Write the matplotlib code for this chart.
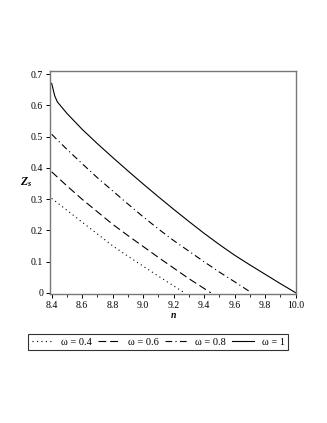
import matplotlib
matplotlib.use("Agg")
import matplotlib.pyplot as plt
from matplotlib.ticker import MultipleLocator

plt.rcParams['font.family'] = ['Liberation Serif', 'DejaVu Serif']
plt.rcParams['mathtext.fontset'] = 'custom'
plt.rcParams['mathtext.rm'] = 'Liberation Serif'
plt.rcParams['mathtext.it'] = 'Liberation Serif:italic'
plt.rcParams['mathtext.bf'] = 'Liberation Serif:italic:bold'

# omega = 1 (solid)
n_w10 = [8.4, 8.41, 8.42, 8.437, 8.5, 8.6, 8.7, 8.8, 8.9, 9.0, 9.1, 9.2, 9.3, 9.4, 9.5, 9.6, 9.7, 9.8, 9.9, 10.0]
z_w10 = [0.670, 0.650, 0.630, 0.611, 0.574, 0.523, 0.477, 0.433, 0.390, 0.348, 0.307, 0.267, 0.228, 0.190,
         0.154, 0.120, 0.089, 0.059, 0.029, 0.0]
# omega = 0.8 (dash-dot)
n_w08 = [8.4, 8.5, 8.6, 8.7, 8.8, 8.9, 9.0, 9.1, 9.2, 9.3, 9.4, 9.5, 9.6, 9.71]
z_w08 = [0.507, 0.459, 0.413, 0.368, 0.326, 0.284, 0.243, 0.204, 0.167, 0.133, 0.099, 0.066, 0.035, 0.0]
# omega = 0.6 (dashed)
n_w06 = [8.4, 8.5, 8.6, 8.7, 8.8, 8.9, 9.0, 9.1, 9.2, 9.3, 9.443]
z_w06 = [0.387, 0.342, 0.299, 0.259, 0.219, 0.183, 0.148, 0.113, 0.079, 0.045, 0.0]
# omega = 0.4 (dotted)
n_w04 = [8.4, 8.5, 8.6, 8.7, 8.8, 8.9, 9.0, 9.1, 9.2, 9.27]
z_w04 = [0.302, 0.264, 0.226, 0.188, 0.150, 0.117, 0.085, 0.053, 0.022, 0.0]

labels = ['ω = 0.4', 'ω = 0.6', 'ω = 0.8', 'ω = 1']
xticks = [8.4, 8.6, 8.8, 9.0, 9.2, 9.4, 9.6, 9.8, 10.0]
yticks = [0, 0.1, 0.2, 0.3, 0.4, 0.5, 0.6, 0.7]
yticklabels = ['0', '0.1', '0.2', '0.3', '0.4', '0.5', '0.6', '0.7']

fig = plt.figure(figsize=(3.27, 4.23), dpi=100)
ax = fig.add_axes([50/327, 1-294/423, 246/327, 223/423])

lw = 0.8
l1, = ax.plot(n_w04, z_w04, color='black', lw=lw, linestyle=(0, (1, 3)))
l2, = ax.plot(n_w06, z_w06, color='black', lw=lw, linestyle=(0, (7, 3.5)))
l3, = ax.plot(n_w08, z_w08, color='black', lw=lw, linestyle=(0, (6, 3, 1, 3)))
l4, = ax.plot(n_w10, z_w10, color='black', lw=lw, linestyle='-')

ax.set_xlim(8.389, 10.002)
ax.set_ylim(-0.004, 0.7097)
ax.set_xticks(xticks)
ax.set_xticklabels([f'{v:.1f}' for v in xticks])
ax.xaxis.set_minor_locator(MultipleLocator(0.1))
ax.set_yticks(yticks)
ax.set_yticklabels(yticklabels)
ax.tick_params(axis='both', which='major', labelsize=7, length=3, width=0.7, direction='out', pad=2)
ax.tick_params(axis='x', which='minor', length=2, width=0.6, direction='out')
ax.tick_params(top=False, right=False)
for s in ax.spines.values():
    s.set_color('#777777')
    s.set_linewidth(1.0)

ax.set_xlabel(r'$\mathbf{n}$', fontsize=7, labelpad=1)
ax.set_ylabel(r'$\mathbf{Z}_\mathbf{s}$', fontsize=8.5, rotation=0)
ax.yaxis.set_label_coords(-0.095, 0.47)

leg = fig.legend([l1, l2, l3, l4], labels, loc='center', bbox_to_anchor=(158/327, 1-342/423),
                 ncol=4, fontsize=7.5, frameon=True, fancybox=False, handlelength=2.1,
                 columnspacing=0.6, handletextpad=0.75, borderpad=0.3, borderaxespad=0)
leg.get_frame().set_edgecolor('black')
leg.get_frame().set_linewidth(0.8)

fig.savefig('out.png', dpi=100)
